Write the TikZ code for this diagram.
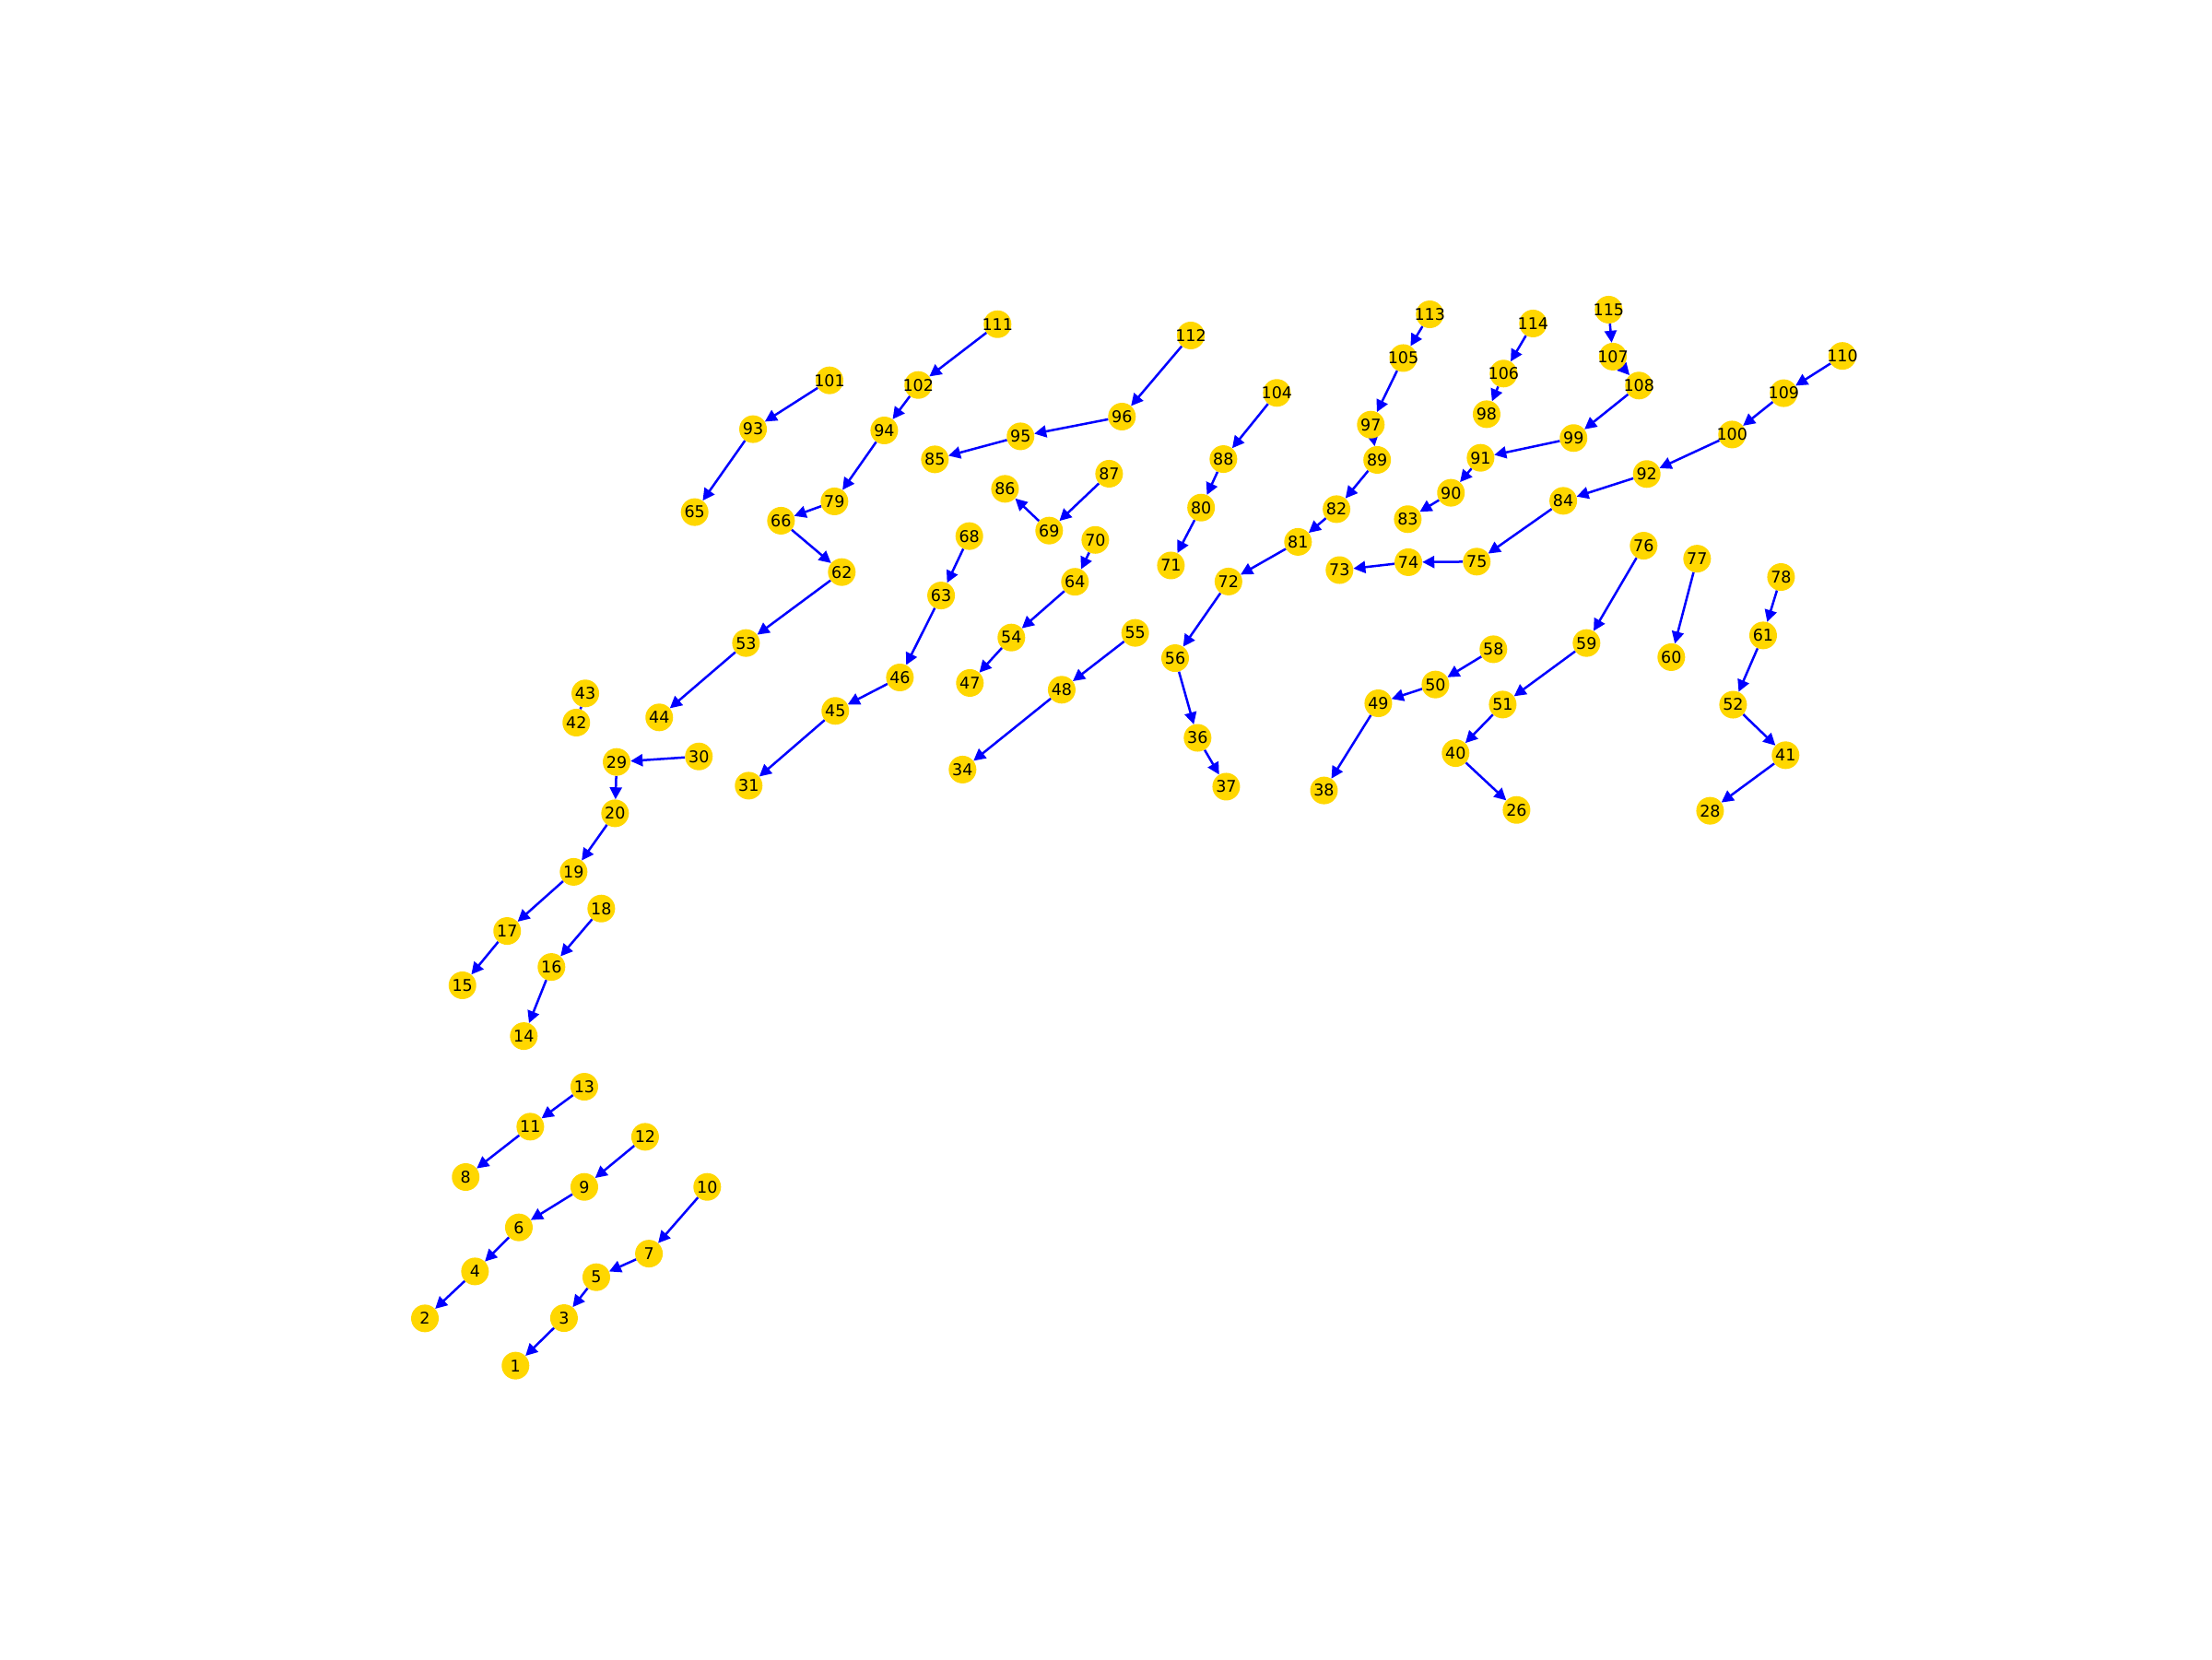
\documentclass[tikz,border=0pt]{standalone}
\usepackage{fontspec}
\setmainfont{DejaVu Sans}
\usetikzlibrary{arrows.meta,backgrounds}
\definecolor{nodegold}{RGB}{255,215,0}
\definecolor{edgeblue}{RGB}{0,0,255}
\tikzset{
  vtx/.style={circle,fill=nodegold,minimum size=30pt,inner sep=0pt,font=\fontsize{17.5}{20}\selectfont},
  edg/.style={draw=edgeblue,line width=2.5pt,-{Triangle[length=13pt,width=13pt]}},
  plainedg/.style={draw=edgeblue,line width=2.5pt}
}
\begin{document}
\begin{tikzpicture}[x=1.5306pt,y=-1.5306pt]
\useasboundingbox (0,0) rectangle (1568,1176);
\foreach \n/\x/\y in {
1/365.4/968, 2/301.2/934.5, 3/399.8/934.3, 4/336.7/901.2, 5/422.7/905.3,
6/367.8/870, 7/460/888.6, 8/330.1/834.3, 9/414.2/841.3, 10/501.3/841.3,
11/375.9/798.6, 12/457.3/805.8, 13/414.2/770.3,
14/371.3/734.4, 15/327.8/698.4, 16/390.9/685.4, 17/359.5/659.9, 18/426.2/644,
19/406.6/618, 20/436/576.5, 29/437.1/540.1, 30/495.4/536.2,
42/408.5/512.2, 43/414.9/491.5, 44/467.3/508.5,
111/707.1/229.8, 101/588/269.6, 102/650.9/272.9, 93/533.8/304.2, 94/626.8/305.1,
85/662.7/325.6, 86/712.4/346.5, 79/591.5/355.4, 65/492.4/363, 66/553.6/369.1,
68/687.1/380, 62/596.7/405.5, 63/667.1/422.1, 64/762/412.4, 53/528.8/455.8,
54/716.9/451.9, 55/804.7/448.6, 46/637.9/480.2, 47/687.5/484.1, 48/752.6/488.9,
45/592.1/503.9, 34/682.3/545.5, 31/530.7/556.9,
112/844.1/237.8, 96/795.3/295.3, 95/723.4/309.3, 88/867.2/325.4, 87/786.2/335.8,
80/851.4/359.8, 69/743.7/376.1, 70/776.4/382.7, 71/830/400.8, 72/870.8/412.2,
105/994.7/253.8, 104/905.1/278.5, 97/971.7/301, 89/976.2/326, 82/947.4/360.9,
81/920.1/384.1, 73/949.5/404.1, 56/833/466.5, 49/977/498.5, 36/848.9/523,
37/869.2/557.6, 38/938.5/560.3,
113/1013.5/222.8, 115/1140.3/219.5, 114/1086.7/229.3, 107/1143.3/252.8,
106/1065.8/264.8, 108/1161.8/273.3, 98/1053.8/293.6, 99/1115.4/310.5,
91/1049.5/324.5, 92/1167.3/336, 90/1028.5/349.3, 84/1108.1/355, 83/997.9/368,
76/1165.1/386.8, 75/1046.8/398.1, 74/998.3/398.5,
59/1124.6/455.8, 58/1058.6/460.2, 50/1017.5/485.2, 51/1065.2/499.4,
40/1031.8/533.8, 26/1075/574.1,
110/1306/252.3, 109/1264.4/278.7, 100/1227.8/308, 77/1203/396, 78/1262.5/409,
61/1249.8/450.4, 60/1184.7/465.8, 52/1228.5/499.5, 41/1265.7/535.3, 28/1212.2/574.7}
  \node[vtx] (n\n) at (\x,\y) {\makebox[0pt][c]{\n}};
\begin{scope}[on background layer]
\foreach \a/\b in {
13/11, 11/8, 12/9, 9/6, 6/4, 4/2, 10/7, 7/5, 5/3, 3/1,
18/16, 16/14, 19/17, 17/15, 20/19, 29/20, 30/29,
53/44, 62/53, 66/62, 79/66, 94/79, 102/94, 111/102, 101/93, 93/65,
46/45, 45/31, 63/46, 68/63, 54/47, 64/54, 70/64, 48/34, 55/48,
69/86, 87/69, 96/95, 95/85, 112/96,
104/88, 88/80, 80/71, 72/56, 56/36, 36/37, 81/72, 82/81, 89/82, 97/89, 105/97, 113/105,
114/106, 106/98, 115/107, 107/108, 108/99, 99/91, 91/90, 90/83,
110/109, 109/100, 100/92, 92/84, 84/75, 75/74, 74/73,
76/59, 59/51, 51/40, 40/26, 58/50, 50/49, 49/38,
77/60, 78/61, 61/52, 52/41, 41/28}
  \draw[edg] (n\a) -- (n\b);
\draw[plainedg] (n43) -- (n42);
\end{scope}
\end{tikzpicture}
\end{document}
